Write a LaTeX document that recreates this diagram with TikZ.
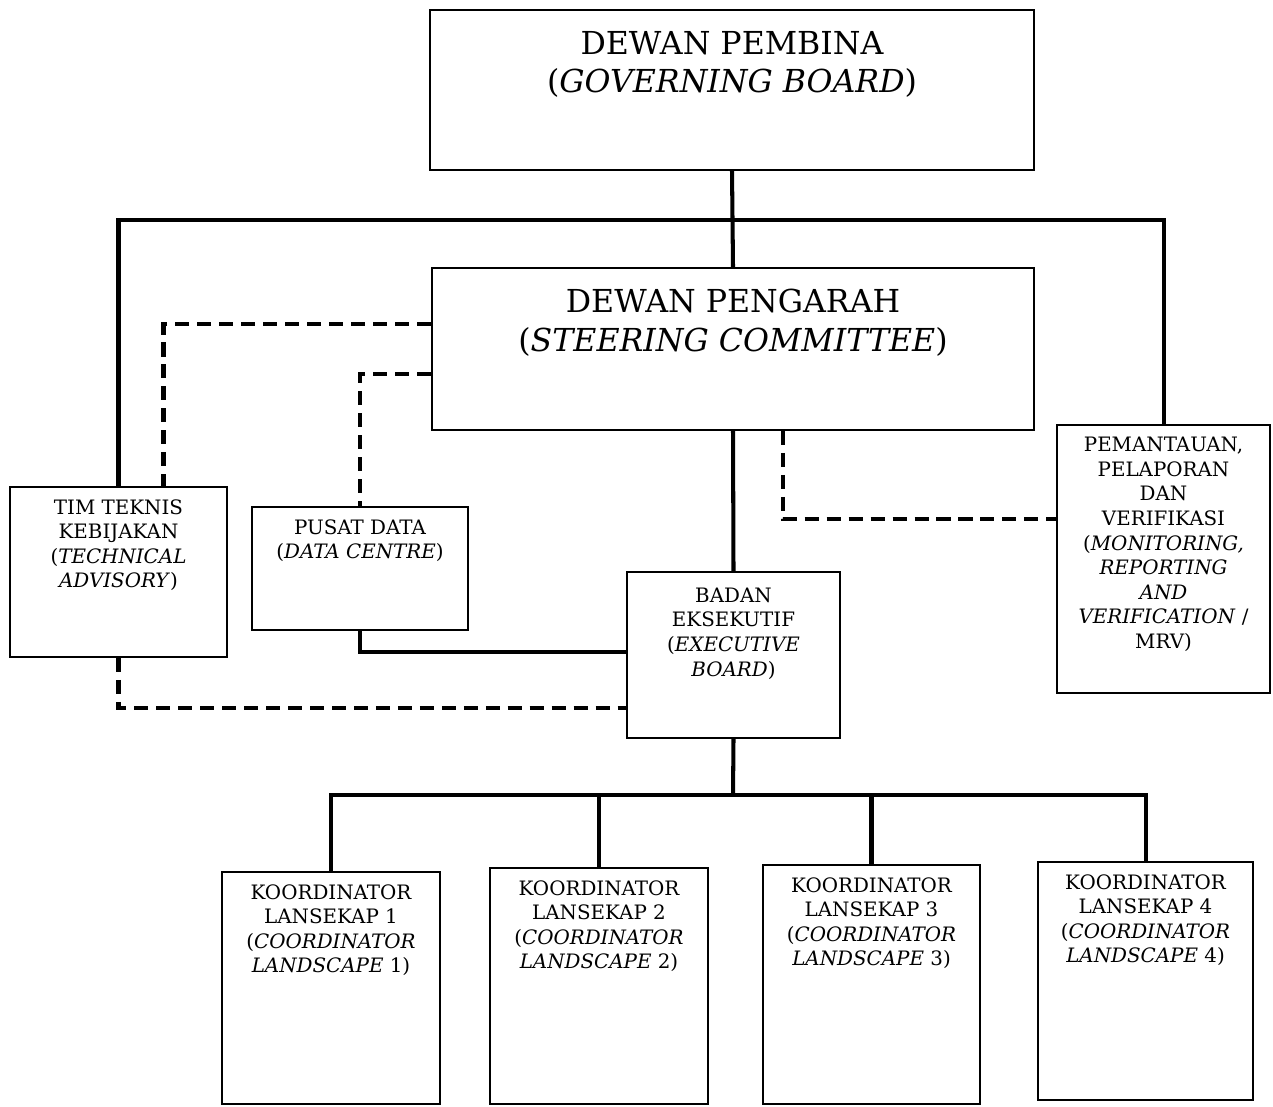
\documentclass[tikz,border=0pt]{standalone}
\usepackage{fontspec}
\setmainfont{DejaVu Serif}
\usetikzlibrary{positioning}
\usetikzlibrary{calc}
\tikzstyle{box} = [rectangle, draw=black, line width=1.1pt, inner sep=0pt]
\tikzstyle{bigtext} = [anchor=north, align=center, yshift=-9pt, font=\fontsize{18}{22}\selectfont]
\tikzstyle{smalltext} = [anchor=north, align=center, yshift=-4pt, font=\fontsize{11.3}{14}\selectfont]
\tikzstyle{solidlink} = [line width=2.3pt]
\tikzstyle{dashlink} = [line width=2.3pt, dash pattern=on 8pt off 4.5pt]

\begin{document}
\begin{tikzpicture}[x=0.02cm, y=-0.02cm]

        \useasboundingbox (0,0) rectangle (1273,1106);

        \node (pembina) [box, minimum width=12.08cm, minimum height=3.2cm, label={[bigtext]north:{DEWAN PEMBINA\\(\textit{GOVERNING BOARD})}}] at (732,90) {};
        \node (pengarah) [box, minimum width=12.06cm, minimum height=3.24cm, label={[bigtext]north:{DEWAN PENGARAH\\(\textit{STEERING COMMITTEE})}}] at (733,349) {};
        \node (tim) [box, minimum width=4.34cm, minimum height=3.4cm, label={[smalltext]north:{TIM TEKNIS\\KEBIJAKAN\\(\textit{TECHNICAL}\\\textit{ADVISORY})}}] at (118.5,572) {};
        \node (pusat) [box, minimum width=4.32cm, minimum height=2.46cm, label={[smalltext]north:{PUSAT DATA\\(\textit{DATA CENTRE})}}] at (360,568.5) {};
        \node (badan) [box, minimum width=4.26cm, minimum height=3.32cm, label={[smalltext, yshift=-2pt]north:{BADAN\\EKSEKUTIF\\(\textit{EXECUTIVE}\\\textit{BOARD})}}] at (733.5,655) {};
        \node (mrv) [box, minimum width=4.26cm, minimum height=5.36cm, label={[smalltext]north:{PEMANTAUAN,\\PELAPORAN\\DAN\\VERIFIKASI\\(\textit{MONITORING,}\\\textit{REPORTING}\\\textit{AND}\\\textit{VERIFICATION} /\\MRV)}}] at (1163.5,559) {};
        \node (koord1) [box, minimum width=4.36cm, minimum height=4.64cm, label={[smalltext]north:{KOORDINATOR\\LANSEKAP 1\\(\textit{COORDINATOR}\\\textit{LANDSCAPE} 1)}}] at (331,988) {};
        \node (koord2) [box, minimum width=4.36cm, minimum height=4.72cm, label={[smalltext]north:{KOORDINATOR\\LANSEKAP 2\\(\textit{COORDINATOR}\\\textit{LANDSCAPE} 2)}}] at (599,986) {};
        \node (koord3) [box, minimum width=4.34cm, minimum height=4.78cm, label={[smalltext]north:{KOORDINATOR\\LANSEKAP 3\\(\textit{COORDINATOR}\\\textit{LANDSCAPE} 3)}}] at (871.5,984.5) {};
        \node (koord4) [box, minimum width=4.3cm, minimum height=4.76cm, label={[smalltext]north:{KOORDINATOR\\LANSEKAP 4\\(\textit{COORDINATOR}\\\textit{LANDSCAPE} 4)}}] at (1145.5,981) {};

        \coordinate (top) at (733,220);
        \coordinate (bus) at (733,795);

        \draw [solidlink] (pembina.south) -- (pengarah.north);
        \draw [solidlink] (tim.north) |- (top) -| (mrv.north);
        \draw [solidlink] (pengarah.south) -- (badan.north);
        \draw [solidlink] (pusat.south) |- ($(badan.north west)+(0,81)$);
        \draw [dashlink] ($(pengarah.north west)+(0,57)$) -| ($(tim.north)+(45,0)$);
        \draw [dashlink] ($(pengarah.north west)+(0,107)$) -| (pusat.north);
        \draw [dashlink] (tim.south) |- ($(badan.south west)+(0,-31)$);
        \draw [dashlink] ($(pengarah.south)+(50,0)$) |- ($(mrv.north west)+(0,95)$);
        \draw [solidlink] (badan.south) -- (bus);
        \draw [solidlink] (koord1.north) |- (bus) -| (koord4.north);
        \foreach \k in {2,3}
            \draw [solidlink] (koord\k.north) -- (koord\k.north |- bus);

    \end{tikzpicture}
\end{document}
